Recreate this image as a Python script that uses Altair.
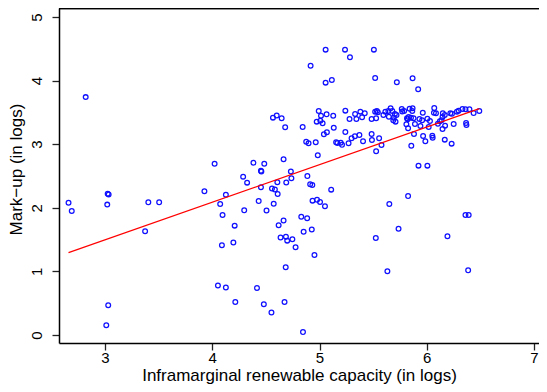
import altair as alt
import pandas as pd

# Inframarginal renewable capacity (in logs)
capacity = [
    2.66, 2.69, 2.82, 3.025, 3.034, 3.021, 3.03, 3.012, 3.404, 3.505, 3.374,
    3.927, 4.022, 4.074, 4.096, 4.127, 4.090, 4.197, 4.209, 4.288, 4.325, 4.298,
    4.384, 4.485, 4.454, 4.458, 4.433, 4.454, 4.506, 4.557, 4.584, 4.607, 4.610,
    4.573, 4.619, 4.665, 4.637, 4.687, 4.699, 4.747, 4.777, 4.685, 4.690, 4.665,
    4.733, 4.738, 4.053, 4.127, 4.417, 4.215, 4.481, 4.674, 4.552, 4.566, 4.601,
    4.647, 4.680,
    5.057, 5.238, 5.284, 5.507, 4.917, 5.057, 5.115, 5.519, 4.993, 5.014, 5.066,
    5.128, 5.241, 5.280, 5.332, 5.381, 5.422, 5.344, 5.397, 5.486, 5.519, 5.535,
    5.544, 5.528, 5.596, 4.974, 5.008, 5.029, 4.843, 5.133, 5.041, 5.069, 5.241,
    4.876, 4.898, 4.965, 5.155, 5.167, 5.198, 5.210, 5.271, 5.299, 5.330, 5.372,
    5.406, 5.486, 5.489, 5.556, 5.578, 5.528, 4.984, 4.887, 4.913, 4.933, 5.109,
    4.935, 4.977, 5.005, 5.051, 4.830, 4.885, 4.852, 4.928, 4.953, 4.846,
    5.721, 5.868, 5.920, 5.614, 5.642, 5.663, 5.679, 5.703, 5.718, 5.647, 5.693,
    5.688, 5.709, 5.767, 5.789, 5.771, 5.840, 5.868, 5.865, 5.816, 5.831, 5.853,
    5.822, 5.877, 5.963, 5.932, 5.957, 6.006, 6.030, 6.070, 6.067, 6.086, 6.150,
    6.168, 6.220, 6.235, 6.281, 6.297, 6.333, 6.361, 6.398, 6.437, 6.490, 6.147,
    6.138, 5.810, 5.826, 5.890, 5.941, 6.018, 6.104, 6.122, 6.171, 6.147, 6.251,
    6.367, 6.370, 5.881, 5.966, 6.052, 6.055, 5.987, 6.168, 6.232, 5.856, 5.923,
    6.006, 5.651, 5.826, 5.737, 5.525, 5.633, 6.361, 6.391, 6.193, 6.386,
]

# Mark-up (in logs)
markup = [
    2.08, 1.95, 3.74, 2.22, 2.21, 2.05, 0.467, 0.153, 2.086, 2.086, 1.630,
    2.259, 2.693, 2.060, 1.887, 2.206, 1.410, 1.454, 1.719, 2.489, 2.395, 1.962,
    2.709, 2.693, 2.583, 2.571, 2.107, 2.322, 1.958, 2.303, 2.288, 2.402, 2.217,
    2.063, 1.725, 1.800, 1.533, 1.546, 1.483, 1.506, 1.380, 1.064, 2.398, 2.763,
    2.571, 2.465, 0.778, 0.747, 0.739, 0.519, 0.483, 0.519, 0.354, 3.417, 3.451,
    3.407, 3.266,
    4.486, 4.486, 4.366, 4.486, 4.234, 3.967, 4.009, 4.041, 3.522, 3.448, 3.470,
    3.448, 3.527, 3.396, 3.475, 3.511, 3.486, 3.396, 3.423, 3.396, 3.511, 3.522,
    3.502, 3.407, 3.459, 3.354, 3.369, 3.329, 3.270, 3.259, 3.156, 3.187, 3.192,
    3.039, 3.014, 3.030, 3.030, 3.019, 3.024, 2.992, 3.014, 3.093, 3.124, 3.145,
    3.046, 3.160, 3.066, 3.093, 2.987, 2.888, 2.825, 2.500, 2.369, 2.358, 2.285,
    2.112, 2.127, 2.091, 2.024, 1.858, 1.835, 1.624, 1.659, 1.258, 0.047,
    3.973, 4.036, 3.863, 3.511, 3.522, 3.564, 3.522, 3.475, 3.459, 3.432, 3.417,
    3.376, 3.354, 3.553, 3.522, 3.514, 3.558, 3.564, 3.522, 3.407, 3.428, 3.417,
    3.391, 3.407, 3.495, 3.396, 3.376, 3.401, 3.365, 3.569, 3.495, 3.486, 3.486,
    3.459, 3.486, 3.479, 3.511, 3.527, 3.553, 3.549, 3.549, 3.491, 3.522, 3.428,
    3.376, 3.313, 3.250, 3.318, 3.286, 3.270, 3.322, 3.360, 3.291, 3.239, 3.318,
    3.333, 3.302, 3.160, 3.129, 3.134, 3.102, 3.046, 3.071, 3.008, 2.976, 2.662,
    2.662, 2.060, 2.185, 1.671, 1.525, 1.002, 1.887, 1.887, 1.552, 1.017,
]

# Fitted line end points
fit_x = [2.66, 6.49]
fit_y = [1.294, 3.558]

x_ticks = [3, 4, 5, 6, 7]
y_ticks = [0, 1, 2, 3, 4, 5]

pts = pd.DataFrame({"capacity": capacity, "markup": markup})
fit = pd.DataFrame({"capacity": fit_x, "markup": fit_y})

FONT = "Liberation Sans"
W, H = 480, 335

xscale = alt.Scale(domain=[2.5711, 7.0466], nice=False, zero=False)
yscale = alt.Scale(domain=[-0.126, 5.141], nice=False, zero=False)

xaxis = alt.Axis(
    title="Inframarginal renewable capacity (in logs)",
    values=x_ticks, grid=False, format="d",
    tickSize=7, tickWidth=1.3, tickColor="#222222",
    domainColor="black", domainWidth=1.5,
    labelFontSize=15, labelFont=FONT, labelColor="black",
    labelBaseline="alphabetic", labelPadding=12,
    titleFontSize=17, titleFont=FONT, titleColor="black", titleFontWeight="normal",
    titleY=37.5, titleBaseline="alphabetic",
)
yaxis = alt.Axis(
    title="Mark\u2212up (in logs)",
    values=y_ticks, grid=False, format="d",
    tickSize=7, tickWidth=1.3, tickColor="#222222",
    domainColor="black", domainWidth=1.5,
    labelFontSize=15, labelFont=FONT, labelColor="black", labelPadding=7.5,
    labelAngle=270, labelAlign="center", labelBaseline="bottom",
    titleFontSize=17, titleFont=FONT, titleColor="black", titleFontWeight="normal",
    titleX=-38, titleY=161, titleBaseline="alphabetic", titleAngle=270,
)

points = alt.Chart(pts).mark_point(
    shape="circle", filled=False, color="#1010ff", size=22, strokeWidth=1.3, opacity=1
).encode(
    x=alt.X("capacity:Q", scale=xscale, axis=xaxis),
    y=alt.Y("markup:Q", scale=yscale, axis=yaxis),
)

line = alt.Chart(fit).mark_line(color="#ff0000", strokeWidth=1.2).encode(
    x=alt.X("capacity:Q", scale=xscale),
    y=alt.Y("markup:Q", scale=yscale),
)

top = alt.Chart(fit).mark_rule(color="black", strokeWidth=1.5).encode(
    x=alt.value(0), x2=alt.value(W), y=alt.value(0.5)
)

chart = alt.layer(points, line, top).properties(
    width=W, height=H,
    autosize=alt.AutoSizeParams(type="none"),
    padding={"left": 51, "top": 0, "right": 0, "bottom": 41},
    background="white",
).configure_view(stroke=None)

chart.save("out.html", embed_options={"renderer": "svg", "actions": False})
